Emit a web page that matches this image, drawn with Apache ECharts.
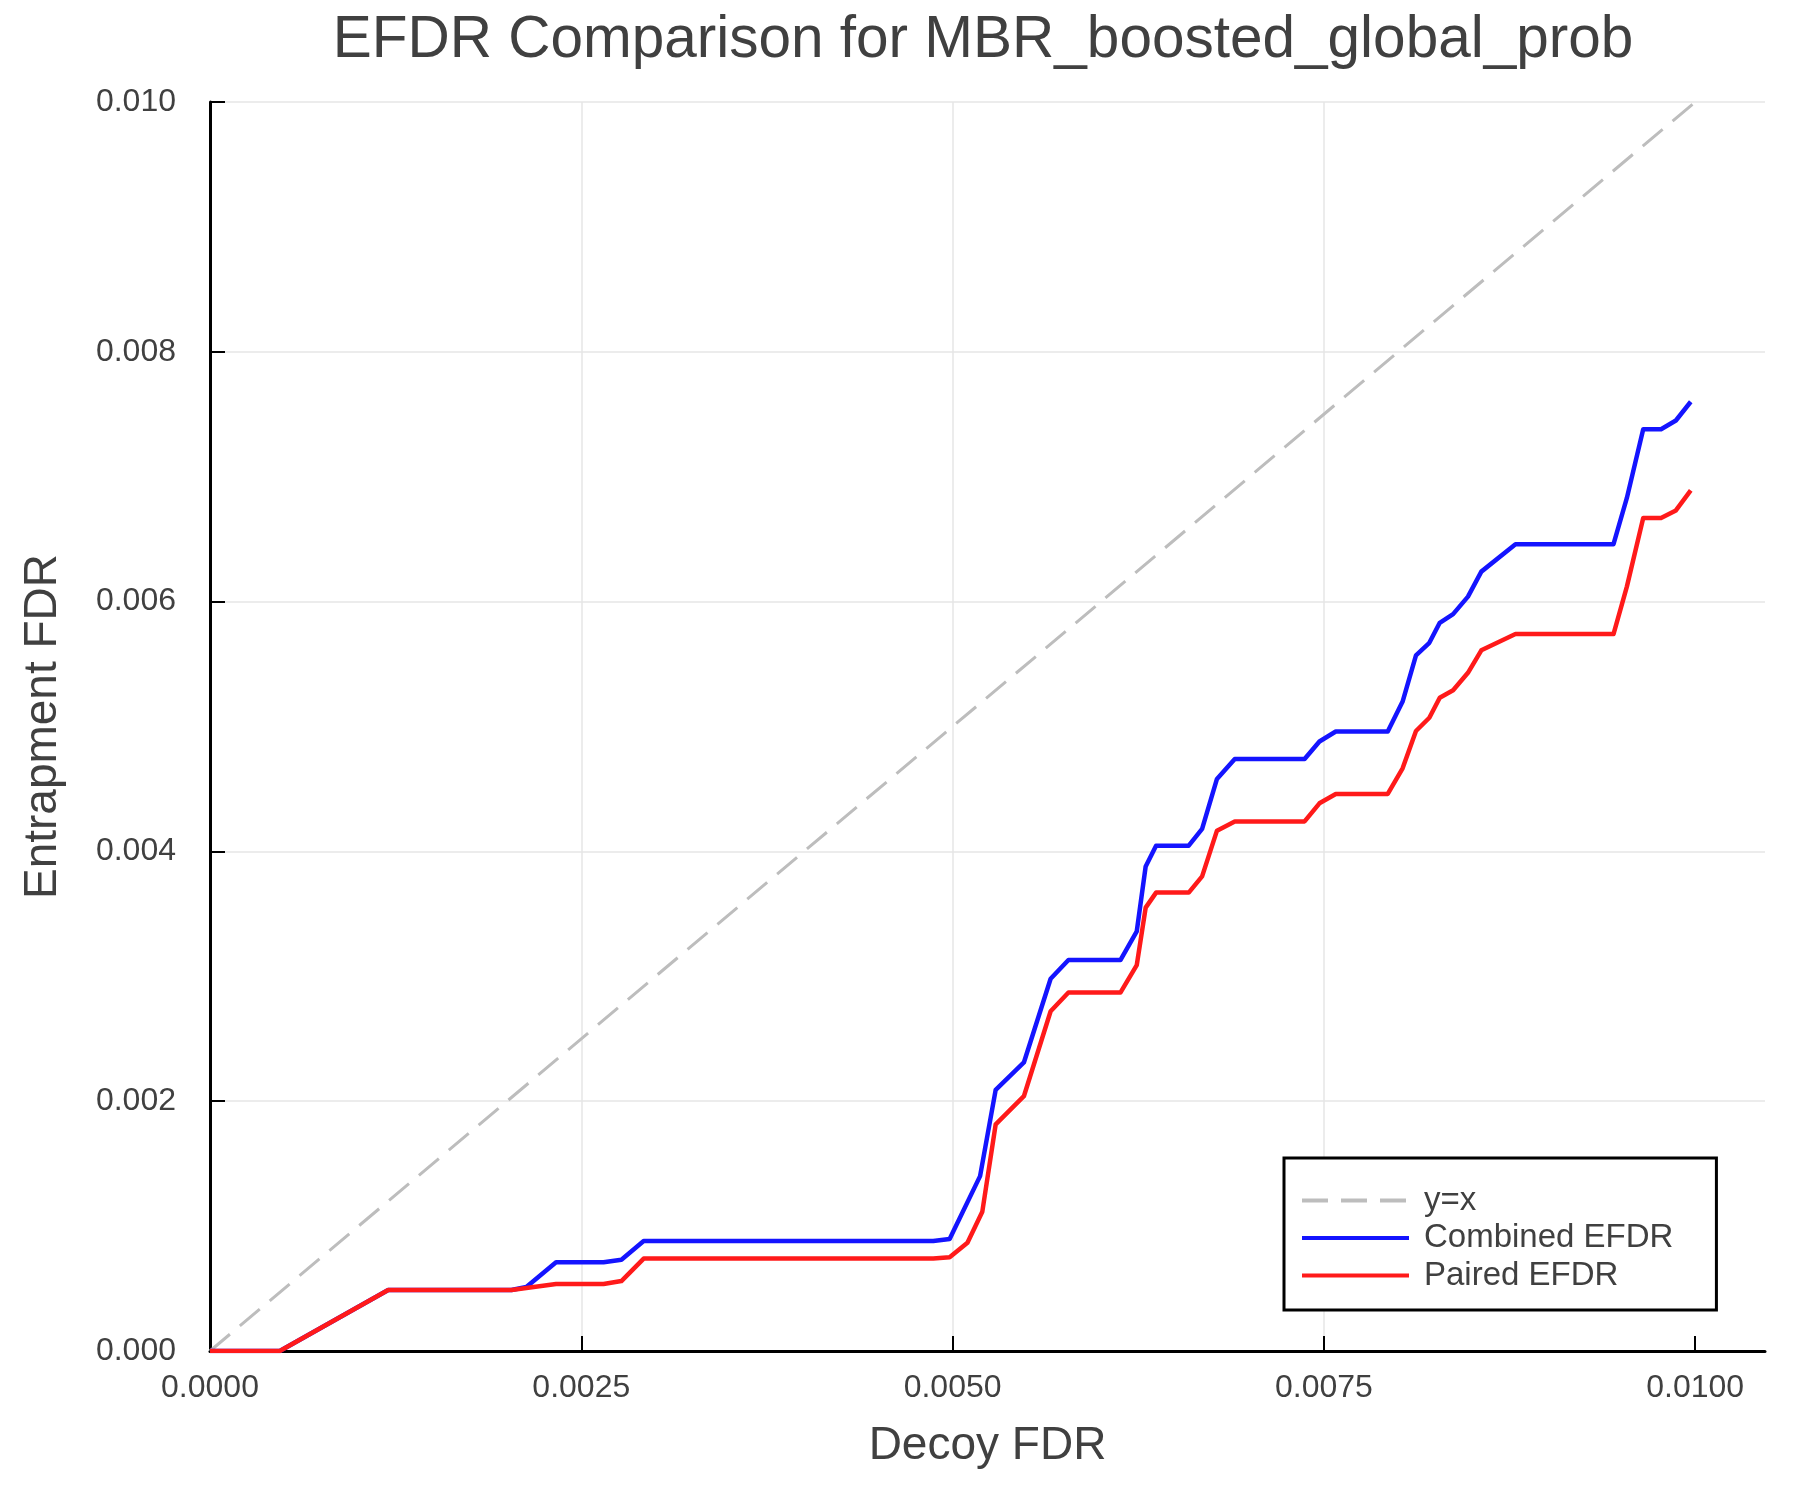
<!DOCTYPE html>
<html>
<head>
<meta charset="utf-8">
<script src="https://cdn.jsdelivr.net/npm/echarts@6/dist/echarts.min.js"></script>
<style>html,body{margin:0;padding:0;background:#fff}#c{width:1800px;height:1500px}</style>
</head>
<body>
<div id="c"></div>
<script>
const titleText = 'EFDR Comparison for MBR_boosted_global_prob';
const xTicks = [0, 0.0025, 0.005, 0.0075, 0.01];
const yTicks = [0, 0.002, 0.004, 0.006, 0.008, 0.01];

const diagX = [0, 0.01];
const diagY = [0, 0.01];

const combinedX = [0, 0.00047, 0.0012, 0.00203, 0.00213, 0.00233, 0.00265, 0.00277, 0.00292, 0.00487, 0.00498, 0.005185, 0.00529, 0.00548, 0.00566, 0.00578, 0.00613, 0.00624, 0.0063, 0.00637, 0.00659, 0.00668, 0.00678, 0.0069, 0.00737, 0.00747, 0.00758, 0.00793, 0.00803, 0.00812, 0.00821, 0.00828, 0.00837, 0.00847, 0.00856, 0.00879, 0.00945, 0.00954, 0.00965, 0.00977, 0.00987, 0.00997];
const combinedY = [0, 0, 0.000488, 0.000488, 0.000512, 0.00071, 0.00071, 0.00073, 0.00088, 0.00088, 0.000897, 0.0014, 0.00209, 0.00231, 0.00298, 0.00313, 0.00313, 0.00336, 0.00388, 0.004046, 0.004046, 0.00418, 0.00458, 0.00474, 0.00474, 0.00488, 0.00496, 0.00496, 0.0052, 0.00557, 0.00567, 0.00583, 0.0059, 0.00604, 0.00624, 0.00646, 0.00646, 0.00683, 0.00738, 0.00738, 0.00745, 0.0076];

const pairedX = [0, 0.00047, 0.0012, 0.00203, 0.00233, 0.00265, 0.00277, 0.00292, 0.00487, 0.00498, 0.0051, 0.0052, 0.00529, 0.00548, 0.00566, 0.00578, 0.00613, 0.00624, 0.0063, 0.00637, 0.00659, 0.00668, 0.00678, 0.0069, 0.00737, 0.00747, 0.00758, 0.00793, 0.00803, 0.00812, 0.00821, 0.00828, 0.00837, 0.00847, 0.00856, 0.00879, 0.00945, 0.00954, 0.00965, 0.00977, 0.00987, 0.00997];
const pairedY = [0, 0, 0.000488, 0.000488, 0.000536, 0.000536, 0.00056, 0.00074, 0.00074, 0.00075, 0.000867, 0.001115, 0.001815, 0.00204, 0.00272, 0.00287, 0.00287, 0.00309, 0.00355, 0.00367, 0.00367, 0.0038, 0.004166, 0.00424, 0.00424, 0.004385, 0.00446, 0.00446, 0.004665, 0.004964, 0.00507, 0.00523, 0.00529, 0.00543, 0.00561, 0.00574, 0.00574, 0.00612, 0.00667, 0.00667, 0.00673, 0.00689];

function zip(a, b) { return a.map((v, i) => [v, b[i]]); }

const FONT = 'Liberation Sans';
const TXT = '#404040';
const chart = echarts.init(document.getElementById('c'), null, {renderer: 'canvas'});
chart.setOption({
  backgroundColor: '#ffffff',
  animation: false,
  title: {
    text: titleText,
    left: 978, top: 6, textAlign: 'center',
    textStyle: {fontFamily: FONT, fontSize: 58.5, fontWeight: 'normal', color: TXT}
  },
  grid: {left: 210, top: 102, right: 35, bottom: 149, containLabel: false},
  xAxis: {
    type: 'value', min: 0, max: 0.01047, interval: 0.0025,
    name: 'Decoy FDR', nameLocation: 'middle', nameGap: 72,
    nameTextStyle: {fontFamily: FONT, fontSize: 46, color: TXT},
    axisLine: {show: true, onZero: false, lineStyle: {color: '#000', width: 3}},
    axisTick: {show: true, inside: true, length: 15, customValues: xTicks, lineStyle: {color: '#000', width: 2}},
    axisLabel: {customValues: xTicks, margin: 21, fontFamily: FONT, fontSize: 32, color: TXT,
      formatter: v => v.toFixed(4)},
    splitLine: {show: true, showMaxLine: false, lineStyle: {color: '#e6e6e6', width: 1.5}}
  },
  yAxis: {
    type: 'value', min: 0, max: 0.01, interval: 0.002,
    name: 'Entrapment FDR', nameLocation: 'middle', nameGap: 144,
    nameTextStyle: {fontFamily: FONT, fontSize: 46, color: TXT},
    axisLine: {show: true, onZero: false, lineStyle: {color: '#000', width: 3}},
    axisTick: {show: true, inside: true, length: 15, lineStyle: {color: '#000', width: 2}},
    axisLabel: {margin: 34, fontFamily: FONT, fontSize: 32, color: TXT,
      formatter: v => v.toFixed(3)},
    splitLine: {show: true, lineStyle: {color: '#e6e6e6', width: 1.5}}
  },
  legend: {
    orient: 'vertical', left: 1284, top: 1158,
    padding: [26, 43, 18, 16],
    borderColor: '#000', borderWidth: 3, backgroundColor: '#fff',
    itemWidth: 107, itemHeight: 4, itemGap: 4.5,
    lineStyle: {width: 4},
    itemStyle: {opacity: 0},
    textStyle: {fontFamily: FONT, fontSize: 33, color: TXT, lineHeight: 33, padding: [0, 0, 0, 10]},
    data: ['y=x', 'Combined EFDR', 'Paired EFDR']
  },
  series: [
    {name: 'y=x', type: 'line', data: zip(diagX, diagY), symbol: 'none',
      lineStyle: {color: '#bdbdbd', width: 3, type: [26, 13]}, itemStyle: {color: '#bdbdbd'}, z: 2},
    {name: 'Combined EFDR', type: 'line', data: zip(combinedX, combinedY), symbol: 'none',
      lineStyle: {color: '#1414ff', width: 4.5, join: 'round'}, itemStyle: {color: '#1414ff'}, z: 3},
    {name: 'Paired EFDR', type: 'line', data: zip(pairedX, pairedY), symbol: 'none',
      lineStyle: {color: '#ff1a1a', width: 4.5, join: 'round'}, itemStyle: {color: '#ff1a1a'}, z: 4}
  ]
});
</script>
</body>
</html>
